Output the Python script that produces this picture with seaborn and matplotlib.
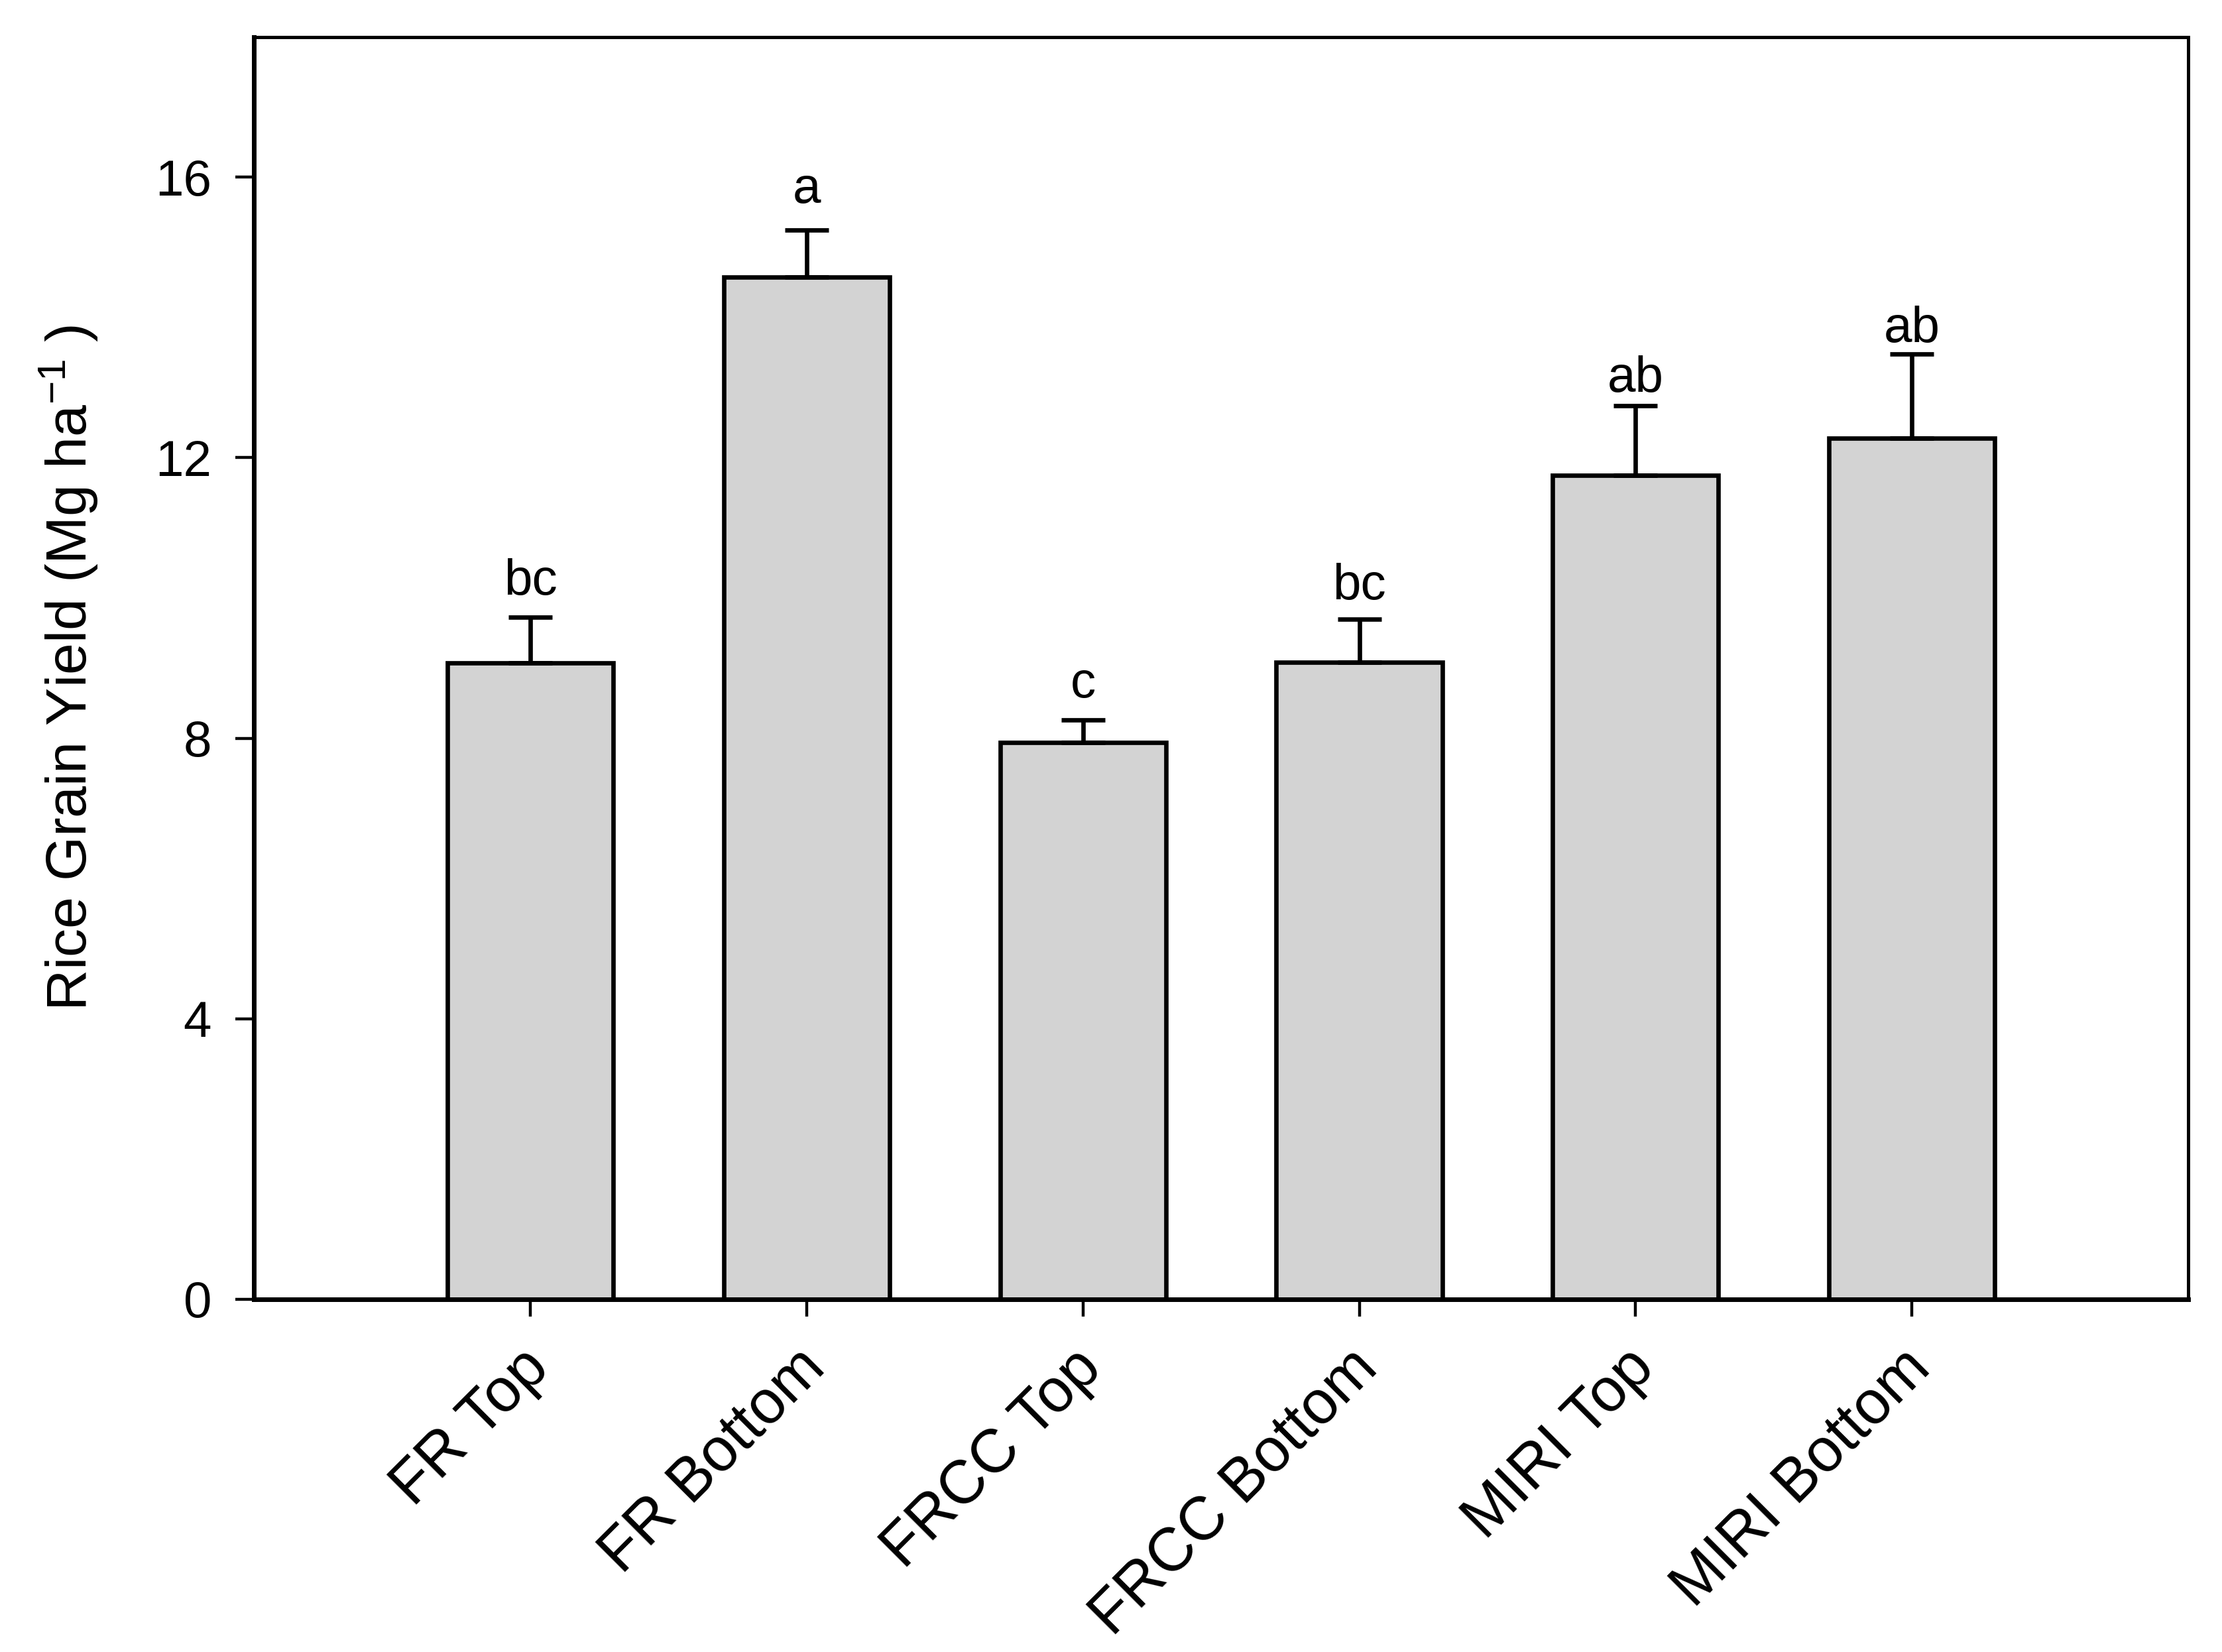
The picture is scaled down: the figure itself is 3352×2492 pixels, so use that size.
import numpy as np
import pandas as pd
import matplotlib
matplotlib.use("Agg")
import matplotlib.pyplot as plt
import matplotlib.transforms as mtransforms
import seaborn as sns

# Values
treatments = ["FR Top", "FR Bottom", "FRCC Top", "FRCC Bottom", "MIRI Top", "MIRI Bottom"]
grain_yield = [9.07, 14.57, 7.94, 9.08, 11.75, 12.28]
std_err = [0.66, 0.68, 0.32, 0.62, 0.99, 1.20]
letters = ["bc", "a", "c", "bc", "ab", "ab"]
letter_y = [10.05, 15.63, 8.58, 9.98, 12.94, 13.65]
y_ticks = [0, 4, 8, 12, 16]

df = pd.DataFrame({"treatment": treatments, "yield": grain_yield})

sns.set_style("ticks")
plt.rcParams["font.family"] = ["Liberation Sans", "DejaVu Sans"]
plt.rcParams["mathtext.fontset"] = "custom"
plt.rcParams["mathtext.rm"] = "Liberation Sans"
plt.rcParams["mathtext.it"] = "Liberation Sans:italic"
plt.rcParams["mathtext.bf"] = "Liberation Sans:bold"
for key in ["text.color", "axes.labelcolor", "xtick.color", "ytick.color", "axes.edgecolor"]:
    plt.rcParams[key] = "black"

fig = plt.figure(figsize=(16.76, 12.46), dpi=200)
ax = fig.add_axes([0.1143, 0.2135, 0.9848 - 0.1143, 0.9777 - 0.2135])

sns.barplot(data=df, x="treatment", y="yield", color="#d3d3d3", saturation=1,
            edgecolor="black", linewidth=2.4, width=0.6, errorbar=None, ax=ax)

# upward-only error bars
ax.errorbar(np.arange(len(treatments)), grain_yield,
            yerr=[np.zeros(len(std_err)), std_err], fmt="none",
            ecolor="black", elinewidth=2.4, capsize=11.9, capthick=2.4)

# significance letters
for i, (lab, ly) in enumerate(zip(letters, letter_y)):
    ax.text(i, ly, lab, ha="center", va="baseline", fontsize=27.5, color="black")

ax.set_xlim(-1, 6)
ax.set_ylim(0, 18)
ax.set_yticks(y_ticks)
ax.set_xticks(range(len(treatments)))
ax.set_xticklabels(treatments, rotation=45, ha="right", rotation_mode="anchor")

ax.set_xlabel("")
ax.set_ylabel(r"Rice Grain Yield (Mg ha$^{\mathregular{-1}}$ )", fontsize=31, labelpad=30)

ax.tick_params(axis="y", direction="out", length=10, width=1.6, labelsize=27.5, pad=13)
ax.tick_params(axis="x", direction="out", length=9.5, width=1.6, labelsize=33, pad=12)

# nudge rotated labels slightly left
shift = mtransforms.ScaledTranslation(-16 / 200, 0, fig.dpi_scale_trans)
for lab in ax.get_xticklabels():
    lab.set_transform(lab.get_transform() + shift)

for side in ["left", "bottom"]:
    ax.spines[side].set_linewidth(2.5)
for side in ["top", "right"]:
    ax.spines[side].set_linewidth(1.8)
    ax.spines[side].set_visible(True)

fig.savefig("out.png", dpi=200)
plt.close(fig)
